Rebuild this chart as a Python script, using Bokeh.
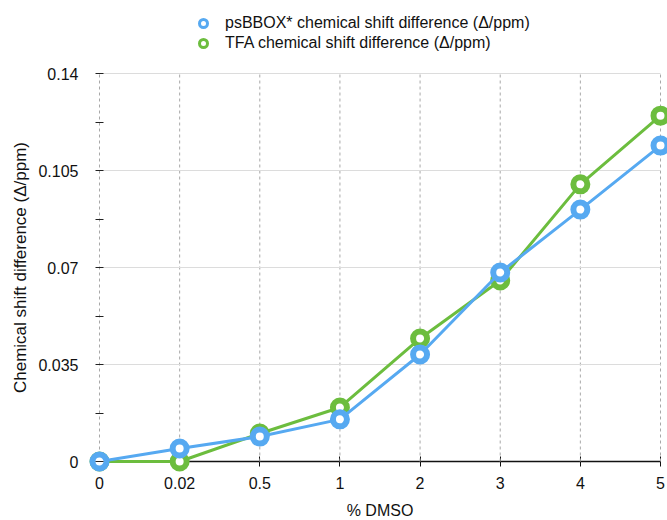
from bokeh.plotting import figure
from bokeh.models import (Range1d, FixedTicker, NumeralTickFormatter, Legend, LegendItem,
                          ColumnDataSource)
from bokeh.embed import file_html
from bokeh.resources import INLINE

categories = ["0", "0.02", "0.5", "1", "2", "3", "4", "5"]
psbbox = [0.0, 0.0047, 0.0090, 0.0152, 0.0386, 0.0682, 0.0909, 0.1140]
tfa = [0.0, 0.0, 0.0101, 0.0195, 0.0444, 0.0653, 0.1000, 0.1248]
y_ticks = [0, 0.035, 0.07, 0.105, 0.14]
y_minor = [0.0175, 0.0525, 0.0875, 0.1225]

BLUE = "#56a9f1"
GREEN = "#6cbd3e"
FONT = "Liberation Sans"
INK = "#111111"

W, H = 667, 520
n = len(categories)
xs = list(range(n))
src = ColumnDataSource(dict(x=xs, b=psbbox, g=tfa))

# the frame covers the whole figure (so edge markers are not clipped);
# axes are pinned at the data origin with fixed_location
PX_X = 561 / (n - 1)
PX_Y = 388 / y_ticks[-1]
x_range = Range1d(-99 / PX_X, (n - 1) + (W - 660) / PX_X)
y_range = Range1d(-(H - 461) / PX_Y, y_ticks[-1] + 73 / PX_Y)

p = figure(width=W, height=H, output_backend="svg", toolbar_location=None,
           x_range=x_range, y_range=y_range,
           min_border_left=0, min_border_right=0, min_border_top=0, min_border_bottom=0)
p.outline_line_color = None
p.background_fill_color = "white"
p.xgrid.visible = False
p.ygrid.visible = False

# grid lines drawn only across the data area
p.segment(x0=xs, x1=xs, y0=[y_ticks[0]] * n, y1=[y_ticks[-1]] * n,
          line_color="#a8a8a8", line_width=1, line_dash="3 3")
p.segment(x0=[0] * (len(y_ticks) - 1), x1=[n - 1] * (len(y_ticks) - 1),
          y0=y_ticks[1:], y1=y_ticks[1:], line_color="#dcdcdc", line_width=1)

# x axis
xa = p.xaxis[0]
xa.level = "underlay"
xa.fixed_location = 0
xa.bounds = (0, n - 1)
xa.ticker = FixedTicker(ticks=xs)
xa.major_label_overrides = {i: c for i, c in enumerate(categories)}
xa.axis_line_color = INK
xa.axis_line_width = 1.5
xa.major_tick_in = 5
xa.major_tick_out = 5
xa.major_tick_line_color = INK
xa.minor_tick_line_color = None
xa.major_label_text_font = FONT
xa.major_label_text_font_size = "16px"
xa.major_label_text_color = INK
xa.major_label_standoff = 10
xa.axis_label = "% DMSO"
xa.axis_label_text_font = FONT
xa.axis_label_text_font_size = "16px"
xa.axis_label_text_font_style = "normal"
xa.axis_label_text_color = INK
xa.axis_label_standoff = 10

# y axis
ya = p.yaxis[0]
ya.fixed_location = 0
ya.bounds = (y_ticks[0], y_ticks[-1])
ya.ticker = FixedTicker(ticks=y_ticks, minor_ticks=y_minor)
ya.formatter = NumeralTickFormatter(format="0.[000]")
ya.axis_line_color = None
ya.major_tick_in = 4
ya.major_tick_out = 4
ya.minor_tick_in = 4
ya.minor_tick_out = 4
ya.major_tick_line_color = "#222222"
ya.minor_tick_line_color = "#222222"
ya.major_label_text_font = FONT
ya.major_label_text_font_size = "16px"
ya.major_label_text_color = INK
ya.major_label_standoff = 17
ya.axis_label = "Chemical shift difference (\u0394/ppm)"
ya.axis_label_text_font = FONT
ya.axis_label_text_font_size = "17px"
ya.axis_label_text_font_style = "normal"
ya.axis_label_text_color = INK
ya.axis_label_standoff = 5

# series: green first so blue sits on top
p.line("x", "g", source=src, line_color=GREEN, line_width=3)
p.scatter("x", "g", source=src, size=14, fill_color="white",
          line_color=GREEN, line_width=6)
p.line("x", "b", source=src, line_color=BLUE, line_width=3)
p.scatter("x", "b", source=src, size=14, fill_color="white",
          line_color=BLUE, line_width=6)

# legend-only marker renderers (thin ring, like the reference key); their single
# point lies outside the visible range
key = ColumnDataSource(dict(x=[xs[0]], y=[y_range.start - 1]))
lb = p.scatter("x", "y", source=key, fill_color="white", line_color=BLUE, line_width=3)
lg = p.scatter("x", "y", source=key, fill_color="white", line_color=GREEN, line_width=3)

legend = Legend(items=[
    LegendItem(label="psBBOX* chemical shift difference (\u0394/ppm)", renderers=[lb]),
    LegendItem(label="TFA chemical shift difference (\u0394/ppm)", renderers=[lg]),
], orientation="vertical", location=(193, H - 53))
legend.border_line_color = None
legend.background_fill_alpha = 0
legend.padding = 0
legend.margin = 0
legend.spacing = 0
legend.glyph_width = 20
legend.glyph_height = 20
legend.label_height = 20
legend.label_standoff = 12
legend.label_text_font = FONT
legend.label_text_font_size = "16px"
legend.label_text_color = INK
p.add_layout(legend, "center")

open("out.html", "w").write(file_html(p, INLINE))
